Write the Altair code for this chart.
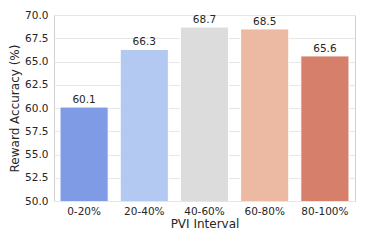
import altair as alt
import pandas as pd

categories = ["0-20%", "20-40%", "40-60%", "60-80%", "80-100%"]
values = [60.1, 66.3, 68.7, 68.5, 65.6]
colors = ["#7f9be5", "#b4c9f1", "#dcdcdc", "#ecbaa2", "#d67f6b"]
yticks = [50, 52.5, 55, 57.5, 60, 62.5, 65, 67.5, 70]

df = pd.DataFrame({"interval": categories, "acc": values,
                   "label": [f"{v:.1f}" for v in values]})

x = alt.X("interval:N", sort=categories, title="PVI Interval",
          scale=alt.Scale(paddingInner=0.2, paddingOuter=0.1),
          axis=alt.Axis(labelAngle=0, ticks=False, domain=False, labelPadding=5,
                        labelFontSize=10.5, titleFontSize=12, titleFontWeight="normal",
                        titlePadding=2, labelColor="#262626", titleColor="#262626",
                        labelFont="DejaVu Sans", titleFont="DejaVu Sans", grid=False))
y = alt.Y("acc:Q", title="Reward Accuracy (%)",
          scale=alt.Scale(domain=[50, 70], nice=False, zero=False),
          axis=alt.Axis(values=yticks,
                        format=".1f", ticks=False, domain=False, labelPadding=6,
                        labelOverlap=False, labelFlush=False,
                        labelFontSize=10.5, titleFontSize=12, titleFontWeight="normal",
                        titlePadding=3, labelColor="#262626", titleColor="#262626",
                        labelFont="DejaVu Sans", titleFont="DejaVu Sans",
                        gridColor="#e6e6e6", gridWidth=1))

bars = alt.Chart(df).mark_bar(stroke="white", strokeWidth=1, clip=True).encode(
    x=x, y=y,
    color=alt.Color("interval:N", sort=categories,
                    scale=alt.Scale(domain=categories, range=colors), legend=None),
)
text = alt.Chart(df).mark_text(dy=-7, fontSize=10.5, font="DejaVu Sans", color="#262626").encode(
    x=x, y=y, text="label:N")

chart = (bars + text).properties(
    width=301, height=186,
    autosize=alt.AutoSizeParams(type="none"),
    padding={"left": 46, "top": 7, "right": 3, "bottom": 34},
).configure_view(stroke="#d0d0d0", strokeWidth=1)

chart.save("out.html", embed_options={"renderer": "svg", "actions": False})
